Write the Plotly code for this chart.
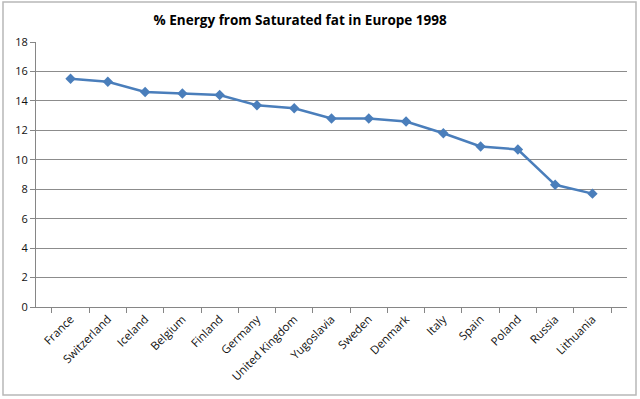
import plotly.graph_objects as go

countries = ["France", "Switzerland", "Iceland", "Belgium", "Finland", "Germany",
             "United Kingdom", "Yugoslavia", "Sweden", "Denmark", "Italy", "Spain",
             "Poland", "Russia", "Lithuania"]
values = [15.5, 15.3, 14.6, 14.5, 14.4, 13.7, 13.5, 12.8, 12.8, 12.6, 11.8, 10.9, 10.7, 8.3, 7.7]
y_ticks = [0, 2, 4, 6, 8, 10, 12, 14, 16, 18]

fig = go.Figure()
fig.add_trace(go.Scatter(
    x=countries, y=values, mode="lines+markers",
    line=dict(color="#4a7ebb", width=2.5),
    marker=dict(symbol="diamond", size=8, color="#4a7ebb"),
))

fig.update_layout(
    width=640, height=399,
    margin=dict(l=36, r=13, t=42, b=92, autoexpand=False),
    paper_bgcolor="white", plot_bgcolor="white",
    showlegend=False,
    title=dict(text="<b>% Energy from Saturated fat in Europe 1998</b>",
               font=dict(family="Open Sans", size=13.5, color="black"),
               x=0.469, xanchor="center", xref="container", y=0.95, yanchor="middle"),
    font=dict(family="Open Sans", size=10, color="#222"),
)
fig.update_xaxes(
    type="category", tickangle=-45, tickson="boundaries",
    ticks="outside", ticklen=5, tickcolor="#868686",
    showline=True, linecolor="#868686", linewidth=1,
    showgrid=False, tickfont=dict(size=11.5, color="#111"), automargin=False,
)
fig.update_yaxes(
    range=[0, 18], tickvals=y_ticks, ticks="outside", ticklen=5,
    tickcolor="#868686", showline=True, linecolor="#868686", linewidth=1,
    showgrid=True, gridcolor="#8c8c8c", gridwidth=1, zeroline=False,
    tickfont=dict(size=11, color="#111"), automargin=False,
)
fig.add_shape(type="rect", xref="paper", yref="paper",
              x0=-33/591, x1=1 + 9/591, y0=-88/265, y1=1 + 40/265,
              line=dict(color="#b8b8b8", width=1.5))
fig.write_html("out.html", post_script="document.body.style.margin='0';",
               config={"displayModeBar": False})
